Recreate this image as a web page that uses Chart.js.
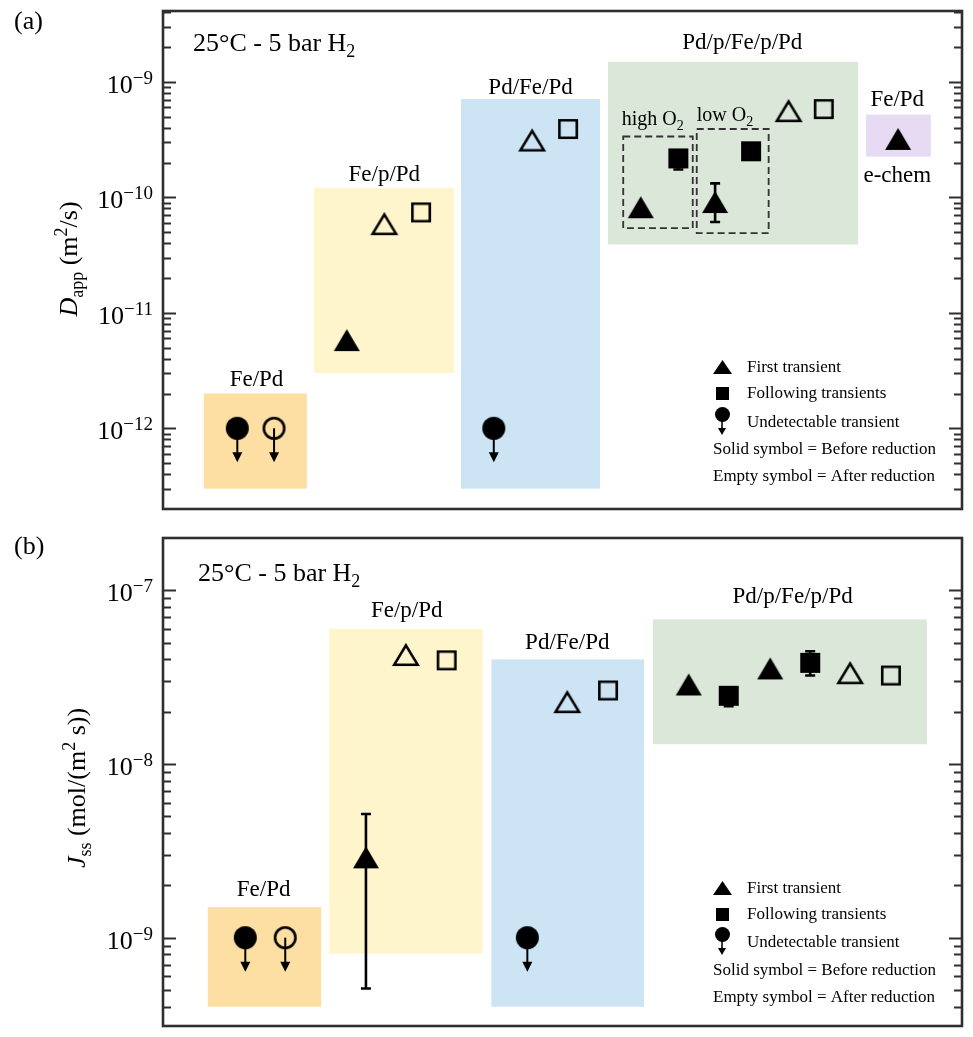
<!DOCTYPE html>
<html>
<head>
<meta charset="utf-8">
<script src="https://cdn.jsdelivr.net/npm/chart.js@4.4.0/dist/chart.umd.min.js"></script>
<style>
  body { margin: 0; background: #fff; overflow: hidden; }
  #wrap { position: relative; width: 973px; height: 1037px; }
  canvas { position: absolute; left: 0; }
</style>
</head>
<body>
<div id="wrap">
  <canvas id="chartA" width="973" height="520" style="top:0"></canvas>
  <canvas id="chartB" width="973" height="517" style="top:520px"></canvas>
</div>
<script>
// ── (a) apparent diffusivity D_app, m^2/s ── x is position across the panel (0-100)
const aFirstSolid  = [[23.0, 5.8e-12], [59.8, 8.2e-11], [69.1, 9.1e-11], [92.0, 3.2e-10]];
const aFollowSolid = [[64.5, 2.17e-10], [73.6, 2.5e-10]];
const aFirstEmpty  = [[27.7, 5.85e-11], [46.2, 3.1e-10], [78.3, 5.57e-10]];
const aFollowEmpty = [[32.3, 7.4e-11], [50.7, 3.9e-10], [82.7, 5.8e-10]];
const aUndetSolid  = [[9.3, 1e-12], [41.4, 1e-12]];
const aUndetEmpty  = [[13.9, 1e-12]];
const aErrors      = [[69.1, 6.1e-11, 1.32e-10], [64.5, 1.74e-10, 2.5e-10]];   // x, low, high
const aBandNames   = ['Fe/Pd', 'Fe/p/Pd', 'Pd/Fe/Pd', 'Pd/p/Fe/p/Pd', 'Fe/Pd'];
const aBands       = [[5.1, 18.0, 3e-13, 2e-12], [18.9, 36.4, 3e-12, 1.2e-10], [37.3, 54.7, 3e-13, 7.1e-10],
                      [55.7, 87.0, 3.9e-11, 1.49e-9], [88.0, 96.1, 2.25e-10, 5.2e-10]];
const aBandLabelAt = [[11.7, 2.3e-12], [27.7, 1.37e-10], [46.0, 7.88e-10], [72.5, 1.92e-9], [91.9, 6.2e-10]];
const aO2Boxes     = [[57.6, 66.3, 5.4e-11, 3.36e-10], [66.8, 75.8, 4.9e-11, 3.9e-10]];
const aYRange      = [2e-13, 4.1e-9];

// ── (b) steady-state flux J_ss, mol/(m^2 s) ──
const bFirstSolid  = [[25.4, 2.9e-9], [65.8, 2.87e-8], [76.0, 3.55e-8]];
const bFollowSolid = [[70.8, 2.47e-8], [81.0, 3.82e-8]];
const bFirstEmpty  = [[30.4, 4.24e-8], [50.6, 2.27e-8], [86.0, 3.33e-8]];
const bFollowEmpty = [[35.5, 3.95e-8], [55.7, 2.65e-8], [91.1, 3.23e-8]];
const bUndetSolid  = [[10.3, 1e-9], [45.6, 1e-9]];
const bUndetEmpty  = [[15.3, 1e-9]];
const bErrors      = [[25.4, 5.1e-10, 5.15e-9], [70.8, 2.15e-8, 2.7e-8], [81.0, 3.23e-8, 4.46e-8]];
const bBandNames   = ['Fe/Pd', 'Fe/p/Pd', 'Pd/Fe/Pd', 'Pd/p/Fe/p/Pd'];
const bBands       = [[5.6, 19.8, 4e-10, 1.5e-9], [20.8, 40.0, 8.1e-10, 6.0e-8], [41.1, 60.2, 4e-10, 4.0e-8],
                      [61.3, 95.6, 1.3e-8, 6.8e-8]];
const bBandLabelAt = [[12.6, 1.73e-9], [30.5, 7.04e-8], [50.6, 4.58e-8], [78.8, 8.45e-8]];
const bYRange      = [3.1e-10, 2e-7];

const legendLabels = ['First transient', 'Following transients', 'Undetectable transient',
                      'Solid symbol = Before reduction', 'Empty symbol = After reduction'];

// ── styling ──
const SERIF = '"Liberation Serif", "DejaVu Serif", serif';
const INK = '#000';
const FRAME = '#2f2f2f';
const aBandColors = ['#fddfa3', '#fff5cc', '#cde4f4', '#dbe7d9', '#e6dbf2'];
const bBandColors = ['#fddfa3', '#fff5cc', '#cde4f4', '#dbe7d9'];

// Marker images, centred on their bounding box (matplotlib style).
const makeMarker = (shape, filled, w, h, lw = 2.6) => {
    const pad = 4;
    const c = document.createElement('canvas');
    c.width = w + pad * 2;
    c.height = h + pad * 2;
    const g = c.getContext('2d');
    g.fillStyle = g.strokeStyle = INK;
    g.lineWidth = lw;
    g.lineJoin = 'miter';
    const i = filled ? 0 : lw / 2;
    const x0 = pad + i, y0 = pad + i, x1 = pad + w - i, y1 = pad + h - i;
    g.beginPath();
    if (shape === 'tri') {
        g.moveTo((x0 + x1) / 2, y0); g.lineTo(x1, y1); g.lineTo(x0, y1); g.closePath();
    } else if (shape === 'sq') {
        g.rect(x0, y0, x1 - x0, y1 - y0);
    } else {
        g.arc(c.width / 2, c.height / 2, (x1 - x0) / 2, 0, Math.PI * 2);
    }
    filled ? g.fill() : g.stroke();
    return c;
};

const MK = {
    triS: makeMarker('tri', true, 26, 22), triE: makeMarker('tri', false, 26, 22),
    sqS: makeMarker('sq', true, 20, 20),   sqE: makeMarker('sq', false, 20, 20),
    cirS: makeMarker('cir', true, 23, 23), cirE: makeMarker('cir', false, 23, 23),
    legTri: makeMarker('tri', true, 19, 14), legSq: makeMarker('sq', true, 13, 13),
    legCir: makeMarker('cir', true, 15, 15),
};

// ── text helpers ──
// parts: [text, size, rise, italic]
const fontOf = p => `${p[3] ? 'italic ' : ''}${p[1]}px ${SERIF}`;
const drawRich = (ctx, parts, x, y, align = 'left') => {
    let w = 0;
    parts.forEach(p => { ctx.font = fontOf(p); w += ctx.measureText(p[0]).width; });
    let cx = align === 'center' ? x - w / 2 : align === 'right' ? x - w : x;
    ctx.textAlign = 'left';
    parts.forEach(p => {
        ctx.font = fontOf(p);
        ctx.fillText(p[0], cx, y - (p[2] || 0));
        cx += ctx.measureText(p[0]).width;
    });
};

const arrowDown = (ctx, x, y, len, head, half) => {
    ctx.beginPath();
    ctx.moveTo(x, y);
    ctx.lineTo(x, y + len - head + 1);
    ctx.stroke();
    ctx.beginPath();
    ctx.moveTo(x - half, y + len - head);
    ctx.lineTo(x + half, y + len - head);
    ctx.lineTo(x, y + len);
    ctx.closePath();
    ctx.fill();
};

// ── panel decorations: bands, labels, error bars, frame, ticks, legend ──
const decor = (p) => ({
    id: 'decor',
    beforeDatasetsDraw(chart) {
        const { ctx, scales: { x, y } } = chart;
        const X = v => x.getPixelForValue(v), Y = v => y.getPixelForValue(v);
        ctx.save();
        p.bands.forEach((b, i) => {
            ctx.fillStyle = p.bandColors[i];
            ctx.fillRect(X(b[0]), Y(b[3]), X(b[1]) - X(b[0]), Y(b[2]) - Y(b[3]));
        });

        ctx.strokeStyle = '#333';
        ctx.lineWidth = 1.8;
        ctx.setLineDash([7, 4]);
        (p.dashBoxes || []).forEach(b => {
            ctx.strokeRect(X(b[0]), Y(b[3]), X(b[1]) - X(b[0]), Y(b[2]) - Y(b[3]));
        });
        ctx.setLineDash([]);

        ctx.fillStyle = INK;
        ctx.textBaseline = 'alphabetic';
        p.bandNames.forEach((n, i) => {
            drawRich(ctx, [[n, 23]], X(p.bandLabelAt[i][0]), Y(p.bandLabelAt[i][1]), 'center');
        });
        (p.notes || []).forEach(n => drawRich(ctx, n.parts, X(n.at[0]), Y(n.at[1]), n.align));

        ctx.strokeStyle = INK;
        ctx.lineWidth = 2.6;
        p.errors.forEach(e => {
            const px = X(e[0]), lo = Y(e[1]), hi = Y(e[2]);
            ctx.beginPath();
            ctx.moveTo(px, lo); ctx.lineTo(px, hi);
            ctx.moveTo(px - 5, lo); ctx.lineTo(px + 5, lo);
            ctx.moveTo(px - 5, hi); ctx.lineTo(px + 5, hi);
            ctx.stroke();
        });

        ctx.lineWidth = 2;
        p.undetected.forEach(([vx, vy]) => arrowDown(ctx, X(vx), Y(vy), 34, 10, 5));
        ctx.restore();
    },
    afterDraw(chart) {
        const { ctx, chartArea: a, scales: { y } } = chart;
        ctx.save();
        ctx.fillStyle = INK;
        ctx.strokeStyle = FRAME;
        ctx.textBaseline = 'alphabetic';

        // inward ticks on both sides, decades major
        const [lo, hi] = p.yRange;
        ctx.lineWidth = 2;
        ctx.beginPath();
        for (let k = Math.floor(Math.log10(lo)); k <= Math.ceil(Math.log10(hi)); k++) {
            for (let m = 1; m <= 9; m++) {
                const v = m * Math.pow(10, k);
                if (v < lo * 1.0001 || v > hi * 0.9999) continue;
                const py = Math.round(y.getPixelForValue(v)) + 0.5;
                const len = m === 1 ? 13 : 8;
                ctx.moveTo(a.left, py); ctx.lineTo(a.left + len, py);
                ctx.moveTo(a.right, py); ctx.lineTo(a.right - len, py);
            }
        }
        ctx.stroke();

        for (let k = Math.ceil(Math.log10(lo)); k <= Math.floor(Math.log10(hi)); k++) {
            const py = y.getPixelForValue(Math.pow(10, k));
            drawRich(ctx, [['10', 26, 0], ['\u2212' + (-k), 19, 9]], a.left - 10, py + 11, 'right');
        }

        ctx.lineWidth = 2.6;
        ctx.strokeRect(a.left, a.top, a.right - a.left, a.bottom - a.top);

        // panel tag, condition, axis title
        drawRich(ctx, [[p.tag, 26]], 14, p.tagY);
        drawRich(ctx, [['25\u00b0C - 5 bar H', 26], ['2', 18, -6]], a.left + p.condX, a.top + p.condY);
        ctx.translate(p.titleX, p.titleY);
        ctx.rotate(-Math.PI / 2);
        drawRich(ctx, p.title, 0, 0, 'center');
        ctx.setTransform(1, 0, 0, 1, 0, 0);

        // legend
        const mx = a.left + 559, tx = a.left + 584, tx2 = a.left + 550;
        const rows = p.legendRows.map(r => a.bottom - r);
        const img = (c, cx, cy) => ctx.drawImage(c, Math.round(cx - c.width / 2), Math.round(cy - c.height / 2));
        img(MK.legTri, mx, rows[0]);
        img(MK.legSq, mx, rows[1]);
        ctx.strokeStyle = INK;
        ctx.lineWidth = 1.6;
        arrowDown(ctx, mx, rows[2] - 8, 21, 7, 4);
        img(MK.legCir, mx, rows[2] - 8);
        ctx.textBaseline = 'middle';
        legendLabels.forEach((t, i) => drawRich(ctx, [[t, 17]], i < 3 ? tx : tx2, rows[i] + 1));
        ctx.restore();
    },
});

const toXY = arr => arr.map(([x, y]) => ({ x, y }));

const makePanel = (id, p) => new Chart(document.getElementById(id), {
    type: 'scatter',
    data: {
        datasets: p.series.map(s => ({
            data: toXY(s.data),
            pointStyle: MK[s.marker],
            pointRadius: 10,
            pointHoverRadius: 10,
        })),
    },
    options: {
        responsive: false,
        animation: false,
        devicePixelRatio: 1,
        events: [],
        layout: { padding: p.padding },
        plugins: { legend: { display: false }, tooltip: { enabled: false } },
        scales: {
            x: { type: 'linear', min: 0, max: 100, display: false },
            y: { type: 'logarithmic', min: p.yRange[0], max: p.yRange[1], display: false },
        },
    },
    plugins: [decor(p)],
});

makePanel('chartA', {
    padding: { left: 163, right: 11, top: 9, bottom: 11 },
    yRange: aYRange,
    series: [
        { data: aUndetSolid, marker: 'cirS' }, { data: aUndetEmpty, marker: 'cirE' },
        { data: aFirstSolid, marker: 'triS' }, { data: aFollowSolid, marker: 'sqS' },
        { data: aFirstEmpty, marker: 'triE' }, { data: aFollowEmpty, marker: 'sqE' },
    ],
    undetected: aUndetSolid.concat(aUndetEmpty),
    errors: aErrors,
    bands: aBands, bandColors: aBandColors, bandNames: aBandNames, bandLabelAt: aBandLabelAt,
    dashBoxes: aO2Boxes,
    notes: [
        { parts: [['high O', 20], ['2', 14, -5]], at: [57.4, 4.26e-10], align: 'left' },
        { parts: [['low O', 20], ['2', 14, -5]], at: [66.8, 4.61e-10], align: 'left' },
        { parts: [['e-chem', 23]], at: [91.9, 1.35e-10], align: 'center' },
    ],
    tag: '(a)', tagY: 29,
    condX: 30, condY: 40,
    title: [['D', 26, 0, true], ['app', 18, -6], [' (m', 26], ['2', 18, 10], ['/s)', 26]],
    titleX: 77, titleY: 259,
    legendRows: [142, 116, 87, 60, 33],
});

makePanel('chartB', {
    padding: { left: 163, right: 11, top: 18, bottom: 3 },
    yRange: bYRange,
    series: [
        { data: bUndetSolid, marker: 'cirS' }, { data: bUndetEmpty, marker: 'cirE' },
        { data: bFirstSolid, marker: 'triS' }, { data: bFollowSolid, marker: 'sqS' },
        { data: bFirstEmpty, marker: 'triE' }, { data: bFollowEmpty, marker: 'sqE' },
    ],
    undetected: bUndetSolid.concat(bUndetEmpty),
    errors: bErrors,
    bands: bBands, bandColors: bBandColors, bandNames: bBandNames, bandLabelAt: bBandLabelAt,
    tag: '(b)', tagY: 34,
    condX: 35, condY: 43,
    title: [['J', 26, 0, true], ['ss', 18, -6], [' (mol/(m', 26], ['2', 18, 10], [' s))', 26]],
    titleX: 85, titleY: 268,
    legendRows: [138, 112, 84, 56, 29],
});
</script>
</body>
</html>
